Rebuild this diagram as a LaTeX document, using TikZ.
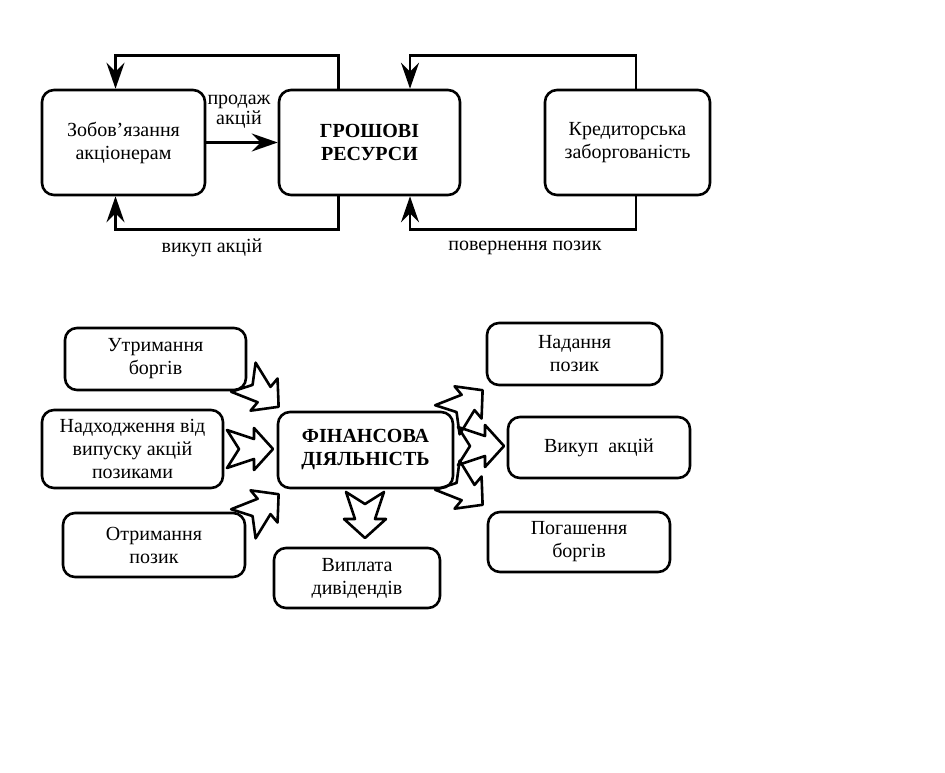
\documentclass[tikz,border=0pt]{standalone}
\usepackage{fontspec}
\setmainfont{Liberation Serif}
\usetikzlibrary{arrows.meta}
\usetikzlibrary{positioning}
\usetikzlibrary{calc}
\tikzset{every picture/.style={line width=2.6pt,x=1pt,y=-1pt}}
\tikzset{blok/.style={draw,rounded corners=12pt,align=center,inner sep=2pt,font=\fontsize{20}{23}\selectfont},
  strilka/.style={-{Stealth[length=26pt,width=18pt,inset=9pt]}},
  napys/.style={align=center,font=\fontsize{20}{20}\selectfont},
  fatarrow/.pic={\draw[line width=2.6pt,line join=round] (-23,19) -- (-11,0) -- (-23,-19) -- (4,-10) -- (4,-21) -- (23,0) -- (4,21) -- (4,10) -- cycle;}}

\begin{document}
\begin{tikzpicture}
\useasboundingbox (0,0) rectangle (945,772);
% top scheme
\node[blok, minimum width=163pt, minimum height=105pt] (zob) at (123.5,142.5) {Зобов’язання\\акціонерам};
\node[blok, minimum width=181pt, minimum height=105pt] (res) at (369.5,142.5) {\bfseries ГРОШОВІ\\\bfseries РЕСУРСИ};
\node[blok, minimum width=165pt, minimum height=105pt] (kred) at (627.5,142.5) {Кредиторська\\заборгованість};
\draw[strilka] (zob) -- (res);
\node[napys] (prodazh) at (239,112) {продаж\\акцій};
\draw[strilka] ([xshift=-31pt]res.north) -- ++(0,-33) -| ([xshift=-8pt]zob.north);
\draw[strilka] ([xshift=-31pt]res.south) -- ++(0,33) -| ([xshift=-8pt]zob.south);
\draw[strilka] ([xshift=8.5pt]kred.north) -- ++(0,-33) -| ([xshift=40.5pt]res.north);
\draw[strilka] ([xshift=8.5pt]kred.south) -- ++(0,33) -| ([xshift=40.5pt]res.south);
\node[napys] (vykup) at (212,248) {викуп акцій};
\node[napys] (povern) at (525,248) {повернення позик};
% bottom scheme
\node[blok, minimum width=181pt, minimum height=62pt] (utr) at (155.5,359) {Утримання\\боргів};
\node[blok, minimum width=181pt, minimum height=78pt] (nadh) at (132.5,449) {Надходження від\\випуску акцій\\позиками};
\node[blok, minimum width=182pt, minimum height=64pt] (otr) at (154,545) {Отримання\\позик};
\node[blok, minimum width=175pt, minimum height=76pt] (fin) at (365.5,450) {\bfseries ФІНАНСОВА\\\bfseries ДІЯЛЬНІСТЬ};
\node[blok, minimum width=166pt, minimum height=60pt] (vypl) at (357,578) {Виплата\\дивідендів};
\node[blok, minimum width=175pt, minimum height=62pt] (nad) at (574.5,354) {Надання\\позик};
\node[blok, minimum width=182pt, minimum height=61pt] (vyk) at (599,447.5) {Викуп~ акцій};
\node[blok, minimum width=182pt, minimum height=60pt] (pog) at (579,542) {Погашення\\боргів};
\pic[rotate=-40] at (261,392) {fatarrow};
\pic at (250,449) {fatarrow};
\pic[rotate=40] at (261,509) {fatarrow};
\pic[rotate=40] at (465,405) {fatarrow};
\pic at (481,446) {fatarrow};
\pic[rotate=-40] at (465,490) {fatarrow};
\pic[rotate=-90] at (365,515) {fatarrow};
\end{tikzpicture}
\end{document}
